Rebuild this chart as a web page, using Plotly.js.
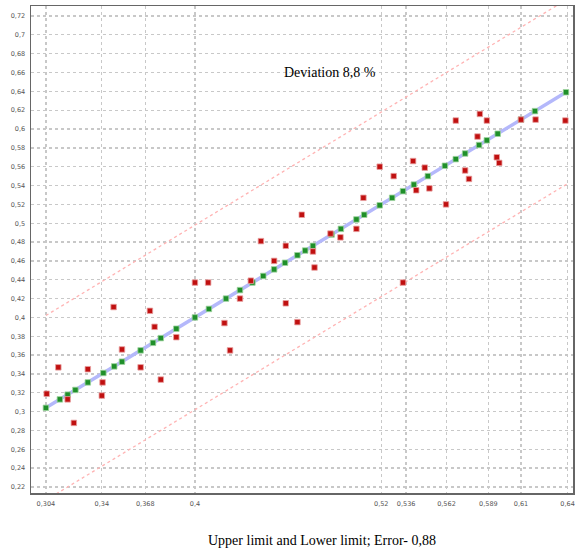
<!DOCTYPE html>
<html>
<head>
<meta charset="utf-8">
<script src="https://cdn.plot.ly/plotly-3.0.1.min.js"></script>
<style>html,body{margin:0;padding:0;background:#fff;}#chart{width:575px;height:549px;}</style>
</head>
<body>
<div id="chart"></div>
<script>
// Ideal (y = x) points, green
var greenX = [0.304, 0.313, 0.318, 0.323, 0.331, 0.341, 0.348, 0.353, 0.365, 0.373, 0.378, 0.388, 0.400, 0.409, 0.420, 0.429, 0.437, 0.444, 0.451, 0.458, 0.466, 0.471, 0.476, 0.488, 0.494, 0.504, 0.509, 0.519, 0.527, 0.534, 0.541, 0.550, 0.561, 0.568, 0.574, 0.583, 0.588, 0.595, 0.610, 0.619, 0.639];
var greenY = [0.304, 0.313, 0.318, 0.323, 0.331, 0.341, 0.348, 0.353, 0.365, 0.373, 0.378, 0.388, 0.400, 0.409, 0.420, 0.429, 0.437, 0.444, 0.451, 0.458, 0.466, 0.471, 0.476, 0.488, 0.494, 0.504, 0.509, 0.519, 0.527, 0.534, 0.541, 0.550, 0.561, 0.568, 0.574, 0.583, 0.588, 0.595, 0.610, 0.619, 0.639];
// Observed points, red
var redX = [0.3045, 0.312, 0.318, 0.322, 0.331, 0.3405, 0.340, 0.3476, 0.353, 0.365, 0.371, 0.374, 0.378, 0.388, 0.400, 0.4085, 0.419, 0.4226, 0.429, 0.436, 0.4425, 0.451, 0.4585, 0.4585, 0.466, 0.4688, 0.476, 0.477, 0.4873, 0.4937, 0.504, 0.5085, 0.519, 0.528, 0.534, 0.5405, 0.5425, 0.548, 0.551, 0.5617, 0.568, 0.574, 0.5765, 0.582, 0.5835, 0.588, 0.5944, 0.596, 0.610, 0.6194, 0.6386];
var redY = [0.319, 0.347, 0.313, 0.288, 0.345, 0.331, 0.317, 0.411, 0.366, 0.347, 0.407, 0.390, 0.334, 0.379, 0.437, 0.437, 0.394, 0.365, 0.420, 0.439, 0.481, 0.460, 0.415, 0.476, 0.395, 0.509, 0.470, 0.453, 0.489, 0.485, 0.494, 0.527, 0.560, 0.550, 0.437, 0.566, 0.535, 0.559, 0.537, 0.520, 0.609, 0.556, 0.547, 0.592, 0.616, 0.609, 0.570, 0.564, 0.610, 0.610, 0.609];
// Reference lines
var fitX = [0.304, 0.640];
var fitY = [0.304, 0.640];
var upperX = [0.304, 0.640];
var upperY = [0.402, 0.738];
var lowerX = [0.304, 0.640];
var lowerY = [0.206, 0.542];
// Tick labels
var xTickVals = [0.304, 0.34, 0.368, 0.4, 0.52, 0.536, 0.562, 0.589, 0.61, 0.64];
var xTickText = ["0,304", "0,34", "0,368", "0,4", "0,52", "0,536", "0,562", "0,589", "0,61", "0,64"];
var yTickVals = [0.22, 0.24, 0.26, 0.28, 0.30, 0.32, 0.34, 0.36, 0.38, 0.40, 0.42, 0.44, 0.46, 0.48, 0.50, 0.52, 0.54, 0.56, 0.58, 0.60, 0.62, 0.64, 0.66, 0.68, 0.70, 0.72];
var yTickText = ["0,22", "0,24", "0,26", "0,28", "0,3", "0,32", "0,34", "0,36", "0,38", "0,4", "0,42", "0,44", "0,46", "0,48", "0,5", "0,52", "0,54", "0,56", "0,58", "0,6", "0,62", "0,64", "0,66", "0,68", "0,7", "0,72"];
var deviationText = "Deviation 8,8 %";
var footerText = "Upper limit and Lower limit; Error- 0,88";

var traces = [
  {x: upperX, y: upperY, mode: 'lines', line: {color: '#ffb3b3', width: 1.3, dash: 'dot'}, hoverinfo: 'skip'},
  {x: lowerX, y: lowerY, mode: 'lines', line: {color: '#ffb3b3', width: 1.3, dash: 'dot'}, hoverinfo: 'skip'},
  {x: fitX, y: fitY, mode: 'lines', line: {color: '#b4b8fb', width: 3.5}, hoverinfo: 'skip'},
  {x: greenX, y: greenY, mode: 'markers', marker: {symbol: 'square', size: 5.5, color: '#1f8f2a', line: {color: '#9fd49f', width: 0.8}}},
  {x: redX, y: redY, mode: 'markers', marker: {symbol: 'square', size: 5.5, color: '#c01010', line: {color: '#e8a0a0', width: 0.8}}}
];

var tickFont = {family: 'DejaVu Sans, Arial, sans-serif', size: 6.5, color: '#555'};
var layout = {
  width: 575, height: 549,
  margin: {l: 31, r: 2, t: 6, b: 56},
  paper_bgcolor: '#fff', plot_bgcolor: '#fff',
  showlegend: false,
  xaxis: {
    range: [0.2944, 0.6435],
    tickmode: 'array', tickvals: xTickVals, ticktext: xTickText,
    tickfont: tickFont, ticks: '', ticklabelstandoff: 4,
    showgrid: true, gridcolor: '#c8c8c8', griddash: 'dot', gridwidth: 1.3,
    zeroline: false, showline: true, linecolor: '#666', linewidth: 1.5, mirror: true
  },
  yaxis: {
    range: [0.2136, 0.7306],
    tickmode: 'array', tickvals: yTickVals, ticktext: yTickText,
    tickfont: tickFont, ticks: '', ticklabelstandoff: 3,
    showgrid: true, gridcolor: '#c8c8c8', griddash: 'dot', gridwidth: 1.3,
    zeroline: false, showline: true, linecolor: '#666', linewidth: 1.5, mirror: true
  },
  annotations: [
    {text: deviationText, xref: 'paper', yref: 'paper', x: 0.552, y: 0.864, showarrow: false,
     font: {family: 'Liberation Serif, Times New Roman, serif', size: 14, color: '#000'}, xanchor: 'center', yanchor: 'middle'},
    {text: footerText, xref: 'paper', yref: 'paper', x: 0.537, y: -0.0985, showarrow: false,
     font: {family: 'Liberation Serif, Times New Roman, serif', size: 14, color: '#000'}, xanchor: 'center', yanchor: 'middle'}
  ]
};

Plotly.newPlot('chart', traces, layout, {displayModeBar: false, staticPlot: true});
</script>
</body>
</html>
